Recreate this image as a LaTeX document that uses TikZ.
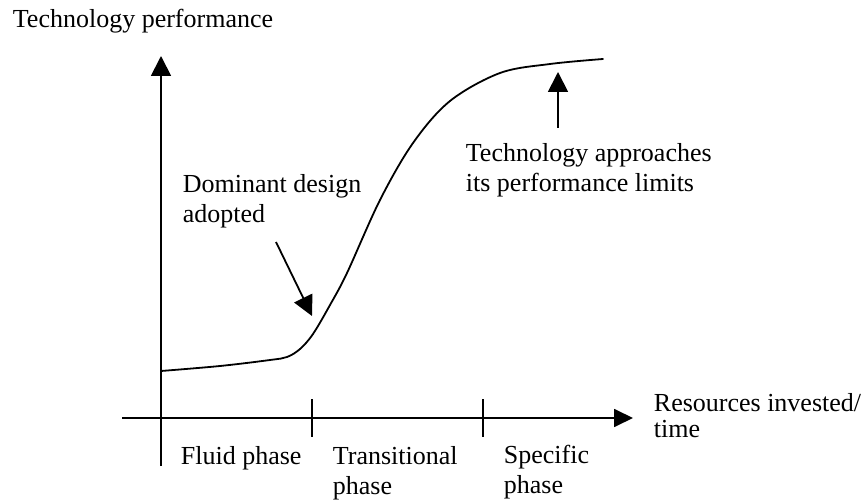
\documentclass[tikz,border=0pt]{standalone}
\usepackage{fontspec}
\setmainfont{Liberation Serif}
\usetikzlibrary{arrows.meta}
\begin{document}
\begin{tikzpicture}[x=1pt,y=-1pt,line width=1.8pt,
  txt/.style={font=\fontsize{26}{30}\selectfont,inner sep=0pt,anchor=base west,align=left},
  bigtip/.style={-{Triangle[length=20pt,width=20pt]}},
  axtip/.style={-{Triangle[length=19pt,width=18pt]}}]
\useasboundingbox (0,0) rectangle (867,502);
% axes
\coordinate (yb) at (161,466);
\coordinate (yt) at (161,56);
\coordinate (xl) at (122,418);
\coordinate (xr) at (633,418);
\draw[bigtip] (yb) -- (yt);
\draw[axtip] (xl) -- (xr);
% ticks
\coordinate (t1a) at (312,399); \coordinate (t1b) at (312,437);
\coordinate (t2a) at (483,399); \coordinate (t2b) at (483,437);
\draw (t1a) -- (t1b);
\draw (t2a) -- (t2b);
% S-curve
\draw[line cap=round] plot[smooth,tension=0.55] coordinates {
  (161,371) (220,366) (270,360) (287,357) (300,349) (313,334) (330,305) (347,273)
  (380,200) (413,143) (450,101) (500,73) (550,64) (603,59)};
% labels (base anchor of a multi-line node = baseline of its last line)
\node[txt] (perf) at (12,28) {Technology performance};
\node[txt] (dom) at (182,223) {Dominant design\\adopted};
\node[txt] (tech) at (465,192) {Technology approaches\\its performance limits};
\node[txt,font=\fontsize{26}{26}\selectfont] (res) at (653,437) {Resources invested/\\time};
\node[txt] (fluid) at (180,464) {Fluid phase};
\node[txt] (trans) at (332,494) {Transitional\\phase};
\node[txt] (spec) at (503,493) {Specific\\phase};
% pointer arrows
\coordinate (domS) at (276,242);
\coordinate (domE) at (312,316);
\draw[bigtip] (domS) -- (domE);
\coordinate (techS) at (558,128);
\coordinate (techE) at (558,72);
\draw[bigtip] (techS) -- (techE);
\end{tikzpicture}
\end{document}
